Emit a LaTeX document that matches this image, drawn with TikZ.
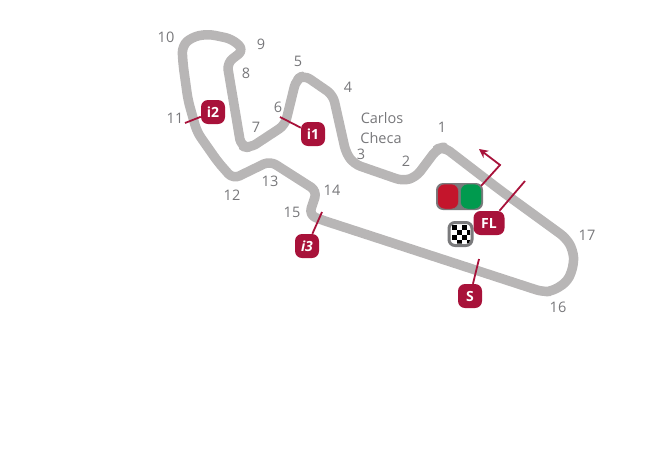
\documentclass[tikz,border=0pt]{standalone}
\usepackage{fontspec}
\usetikzlibrary{arrows.meta}
\setmainfont{Open Sans}
\definecolor{trackc}{HTML}{B8B6B6}
\definecolor{labelc}{HTML}{77777A}
\definecolor{crim}{HTML}{A8123A}
\definecolor{lampbox}{HTML}{7A7A7C}
\definecolor{lampred}{HTML}{C4152C}
\definecolor{lampgreen}{HTML}{009A4E}
\tikzset{
  trackline/.style={draw=trackc,line width=9.5pt,rounded corners=7pt,line join=round},
  num/.style={text=labelc,font=\fontsize{14.5}{17}\selectfont,inner sep=0pt,anchor=center},
  badge/.style={fill=crim,text=white,rounded corners=7pt,inner sep=0pt,minimum height=24pt,minimum width=24pt,font=\fontsize{14}{17}\selectfont\bfseries},
  leader/.style={draw=crim,line width=1.8pt},
  lamp/.style={rounded corners=7pt,inner sep=0pt,minimum width=21pt,minimum height=25pt,draw=lampbox,line width=0.5pt}
}
\begin{document}
\begin{tikzpicture}[x=1pt,y=-1pt]
\useasboundingbox (0,0) rectangle (669,461);
% track
\draw[trackline] (500,190) -- (566,238) -- (573,250) -- (574,264) -- (568,281) -- (553,291) -- (543,292) -- (322,220) -- (309,215) -- (317,191) -- (270,161) -- (233,179) -- (218,162) -- (197,132) -- (188,100) -- (183,64) -- (182,46) -- (192,37) -- (208,34) -- (232,39) -- (244,50) -- (227,63) -- (241,146) -- (250,148) -- (285,125) -- (296,80) -- (304,75) -- (333,95) -- (346,153) -- (354,164) -- (403,181) -- (416,177) -- (437,149) -- (444,147) -- cycle;
% leaders' free ends
\coordinate (e2) at (185,123);
\coordinate (e1) at (280,117);
\coordinate (e3) at (322,212);
\coordinate (eS) at (479,259);
\coordinate (eFL) at (525,181);
\coordinate (bend) at (500,165);
\coordinate (tip) at (479,149);
% lights
\node[fill=lampbox,rounded corners=7pt,minimum width=47pt,minimum height=27pt,inner sep=0pt] (lights) at (459.5,196.5) {};
\node[lamp,fill=lampred] (red) at (448,196.5) {};
\node[lamp,fill=lampgreen] (green) at (471,196.5) {};
\draw[leader,-{Stealth[length=9pt,width=9pt]}] (lights.north east) ++(-2,3) coordinate (ls) -- (bend) -- (tip);
% chequered flag
\node[fill=white,draw=lampbox,line width=3pt,rounded corners=6pt,minimum size=23pt,inner sep=0pt] (flag) at (460.5,234) {};
\begin{scope}
\clip[rounded corners=3pt] (451,224.5) rectangle (470,243.5);
\foreach \i in {0,...,3} \foreach \j in {0,...,3} {
  \pgfmathparse{int(mod(\i+\j,2))}
  \ifnum\pgfmathresult=0
    \fill[black] (451.5+\i*5,224.5+\j*5) rectangle ++(5,5);
  \fi
}
\end{scope}
% badges and leaders
\node[badge] (i2) at (213,112) {i2};
\node[badge] (i1) at (313,134) {i1};
\node[badge] (i3) at (307,246) {\itshape i3};
\node[badge] (S) at (470,296) {S};
\node[badge,minimum width=31pt] (FL) at (489,223) {FL};
\draw[leader] (i2) -- (e2);
\draw[leader] (i1) -- (e1);
\draw[leader] (i3) -- (e3);
\draw[leader] (S) -- (eS);
\draw[leader] (FL) -- (eFL);
% labels
\node[num] (n10) at (166,37) {10};
\node[num] (n9) at (261,44) {9};
\node[num] (n8) at (246,73) {8};
\node[num] (n5) at (298,61) {5};
\node[num] (n4) at (348,87) {4};
\node[num] (n6) at (278,107) {6};
\node[num] (n7) at (256,127) {7};
\node[num] (n11) at (175,118) {11};
\node[num] (c1) at (382,118) {Carlos};
\node[num] (c2) at (381,138) {Checa};
\node[num] (n3) at (361,154) {3};
\node[num] (n2) at (406,161) {2};
\node[num] (n1) at (442,127) {1};
\node[num] (n13) at (270,181) {13};
\node[num] (n14) at (332,190) {14};
\node[num] (n12) at (232,195) {12};
\node[num] (n15) at (292,212) {15};
\node[num] (n17) at (587,235) {17};
\node[num] (n16) at (558,307) {16};
\end{tikzpicture}
\end{document}
